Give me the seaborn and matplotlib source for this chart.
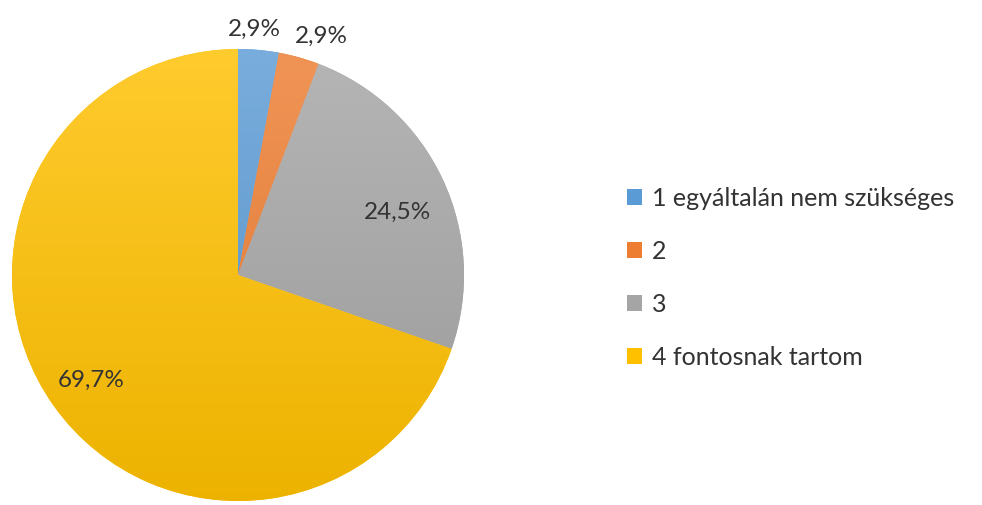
import numpy as np
import matplotlib
matplotlib.use("Agg")
import matplotlib.pyplot as plt
from matplotlib.patches import Patch
from matplotlib.colors import to_rgb
import seaborn as sns

# Survey answers and their shares (%)
categories = ["1 egyáltalán nem szükséges", "2", "3", "4 fontosnak tartom"]
shares = [2.9, 2.9, 24.5, 69.7]
value_labels = ["2,9%", "2,9%", "24,5%", "69,7%"]
colors = ["#5B9BD5", "#ED7D31", "#A5A5A5", "#FFC000"]

sns.set_theme(style="white")
plt.rcParams["font.family"] = ["Lato", "DejaVu Sans"]

W, H = 982, 505
fig = plt.figure(figsize=(W / 100, H / 100), dpi=100)
ax = fig.add_axes([0, 0, 1, 1])

cx, cy, r = 238, 230, 226
wedges, _ = ax.pie(shares, colors=colors, startangle=90, counterclock=False,
                   center=(cx, cy), radius=r, frame=True,
                   wedgeprops=dict(linewidth=0))

# Soft vertical shading on every slice: lighter at the top, darker below
t = np.linspace(0.0, 1.0, 256)[:, None, None]  # 0 = bottom, 1 = top
for w, c in zip(wedges, colors):
    base = np.array(to_rgb(c))[None, None, :]
    dark = base * 0.93
    light = base + (1 - base) * 0.18
    img = dark * (1 - t) + light * t
    img = np.repeat(img, 2, axis=1)
    im = ax.imshow(np.clip(img, 0, 1), extent=(cx - r, cx + r, cy - r, cy + r),
                   origin="lower", aspect="auto", zorder=2, interpolation="bilinear")
    im.set_clip_path(w)

ax.set_xlim(0, W)
ax.set_ylim(0, H)
ax.set_aspect("equal")
ax.axis("off")

# Value labels placed along each slice's mid-angle
label_dist = [1.09, 1.12, 0.76, 0.80]
angle_shift = [1.5, -3.5, -3.5, 0.0]
for w, txt, d, s in zip(wedges, value_labels, label_dist, angle_shift):
    mid = np.deg2rad((w.theta1 + w.theta2) / 2 + s)
    ax.text(cx + d * r * np.cos(mid), cy + d * r * np.sin(mid), txt,
            ha="center", va="center", fontsize=17.5, color="#333333", zorder=5)

handles = [Patch(facecolor=c, edgecolor="none") for c in colors]
leg = ax.legend(handles, categories, loc="center left",
                bbox_to_anchor=(604 / W, 1 - 278 / H), frameon=False,
                fontsize=18, handlelength=0.6, handleheight=0.6,
                handletextpad=0.4, labelspacing=1.2)
for txt in leg.get_texts():
    txt.set_color("#333333")

fig.savefig("out.png", dpi=100)
